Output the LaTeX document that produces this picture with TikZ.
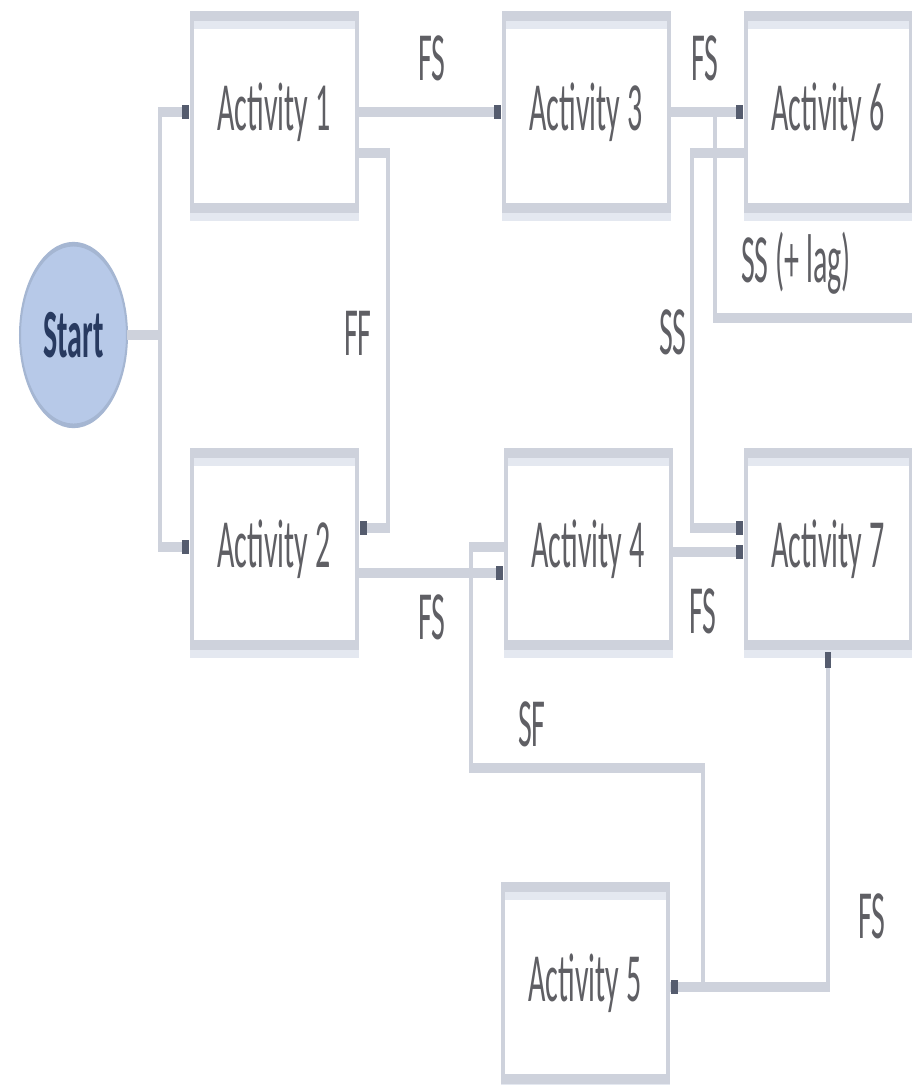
\documentclass[tikz,border=0pt]{standalone}
\usepackage{fontspec}
\setmainfont{Carlito}
\usetikzlibrary{shapes.geometric,arrows.meta,calc}
\definecolor{connc}{RGB}{206,210,220}
\definecolor{boxc}{RGB}{206,210,220}
\definecolor{shadc}{RGB}{228,232,240}
\definecolor{tipc}{RGB}{85,92,110}
\definecolor{txtc}{RGB}{95,95,100}
\definecolor{startfill}{RGB}{183,201,232}
\definecolor{startdraw}{RGB}{165,182,210}
\definecolor{startc}{RGB}{40,58,96}
\tikzset{
  actbox/.style={fill=white, minimum width=165pt, minimum height=83.5pt, inner sep=0pt, outer sep=0pt, text=txtc, font=\fontsize{30}{36}\selectfont},
  boxline/.style={draw=boxc, line width=4pt},
  boxshadow/.style={draw=shadc, line width=4pt},
  conn/.style={draw=connc, line width=4pt},
  arr/.style={-{Rectangle[length=7pt,width=6pt,color=tipc]}, shorten >=3pt},
  lbl/.style={text=txtc, inner sep=0pt, font=\fontsize{30}{36}\selectfont},
  startnode/.style={ellipse, fill=startfill, draw=startdraw, line width=2pt, minimum width=107pt, minimum height=79pt, inner sep=0pt, outer sep=0pt, text=startc, font=\fontsize{30}{36}\selectfont\bfseries}
}
\begin{document}
\begin{tikzpicture}
\useasboundingbox[fill=white] (0,0) rectangle (911pt,-1085pt);
\begin{scope}[transform canvas={yscale=2.3}, x=1pt, y={(0pt,-0.434783pt)}]
  % nodes
  \node[startnode] (st) at (73.5,335) {Start};
  \node[actbox] (a1) at (274,112) {Activity 1};
  \node[actbox] (a2) at (274,549) {Activity 2};
  \node[actbox] (a3) at (586,112) {Activity 3};
  \node[actbox] (a4) at (588,549) {Activity 4};
  \node[actbox] (a5) at (585,983) {Activity 5};
  \node[actbox] (a6) at (828,112) {Activity 6};
  \node[actbox] (a7) at (828,549) {Activity 7};
  \foreach \b in {a1,a2,a3,a4,a5,a6,a7}{
    \draw[boxshadow] ([yshift=-3.7pt]\b.north west) rectangle ([yshift=-3.7pt]\b.south east);
    \draw[boxline] (\b.north west) rectangle (\b.south east);
  }
  % connectors
  \coordinate (j1) at (160,335);
  \draw[conn,arr] (st.east) -- (j1) |- (a1.west);
  \draw[conn,arr] (j1) |- ($(a2.west)+(0,-2)$);
  \draw[conn,arr] (a1.east) -- (a3.west);
  \draw[conn,arr] ($(a1.east)+(0,41)$) -- ++(31,0) |- ($(a2.east)+(0,-21)$);
  \draw[conn,arr] ($(a2.east)+(0,24)$) -- ($(a4.west)+(0,24)$);
  \draw[conn,arr] (a3.east) -- (a6.west);
  \coordinate (lagA) at (715,112);
  \coordinate (lagB) at (940,318);
  \draw[conn] (lagA) |- (lagB);
  \draw[conn,arr] ($(a6.west)+(0,41)$) -- ++(-54,0) |- ($(a7.west)+(0,-21)$);
  \draw[conn,arr] ($(a4.east)+(0,3)$) -- ($(a7.west)+(0,3)$);
  \draw[conn,arr] ($(a5.east)+(0,4)$) -| (a7.south);
  \draw[conn,arr] ($(a4.west)+(0,-2)$) -- ++(-35,0) -- ++(0,221) -- ++(232,0) |- ($(a5.east)+(0,4)$);
  % labels
  \node[lbl] (l1) at (432,58) {FS};
  \node[lbl] (l2) at (358,333) {FF};
  \node[lbl] (l3) at (432,617) {FS};
  \node[lbl] (l4) at (705,58) {FS};
  \node[lbl] (l5) at (796,263) {SS (+ lag)};
  \node[lbl] (l6) at (673,332) {SS};
  \node[lbl] (l7) at (703,611) {FS};
  \node[lbl] (l8) at (532,724) {SF};
  \node[lbl] (l9) at (872,916) {FS};
\end{scope}
\end{tikzpicture}
\end{document}
